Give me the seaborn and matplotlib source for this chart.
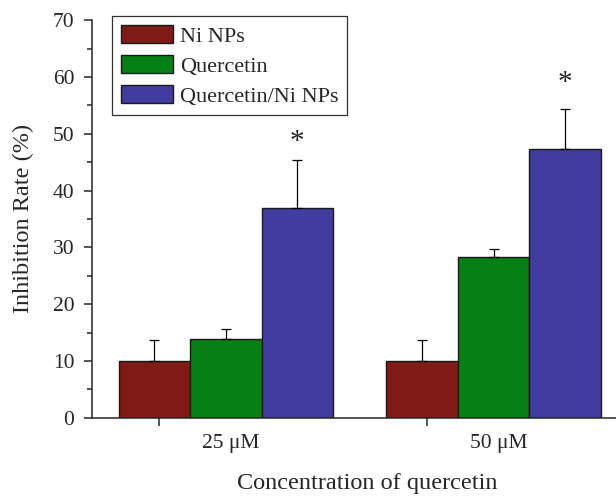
import numpy as np
import pandas as pd
import matplotlib
matplotlib.use("Agg")
import matplotlib.pyplot as plt
import seaborn as sns

# ---- data ----
categories = ["25 \u03bcM", "50 \u03bcM"]
series = ["Ni NPs", "Quercetin", "Quercetin/Ni NPs"]
ni_nps = [10.0, 10.0]
quercetin = [13.8, 28.3]
quercetin_ni = [36.9, 47.3]
ni_nps_err = [3.6, 3.6]
quercetin_err = [1.9, 1.4]
quercetin_ni_err = [8.5, 7.0]
star_y = [48.5, 59.0]          # heights of the significance asterisks
colors = ["#7f1a17", "#067f14", "#403ca0"]

rows = []
for s, vals, errs in zip(series, [ni_nps, quercetin, quercetin_ni],
                         [ni_nps_err, quercetin_err, quercetin_ni_err]):
    for c, v, e in zip(categories, vals, errs):
        rows.append({"conc": c, "series": s, "value": v, "err": e})
df = pd.DataFrame(rows)

sns.set_style("ticks")
plt.rcParams["font.family"] = ["Liberation Serif", "DejaVu Serif"]

fig = plt.figure(figsize=(6.16, 4.96), dpi=100)
ax = fig.add_axes([92.3 / 616, (496 - 417.7) / 496, (616 - 92.3) / 616, (417.7 - 20.1) / 496])

sns.barplot(data=df, x="conc", y="value", hue="series", order=categories,
            hue_order=series, palette=colors, errorbar=None, width=0.8,
            saturation=1, edgecolor="#1a1a1a", linewidth=1.0, ax=ax)

# error bars (upper only) from the drawn bars
for cont, s in zip(ax.containers, series):
    sub = df[df["series"] == s].set_index("conc").loc[categories]
    xs = [p.get_x() + p.get_width() / 2 for p in cont.patches]
    ys = [p.get_height() for p in cont.patches]
    ax.errorbar(xs, ys, yerr=[np.zeros(len(ys)), sub["err"].values], fmt="none",
                ecolor="black", elinewidth=0.9, capsize=3.5, capthick=0.9, zorder=1)

# asterisks over the combined treatment
for p, y in zip(ax.containers[2].patches, star_y):
    ax.text(p.get_x() + p.get_width() / 2, y, "*", ha="center", va="center",
            fontsize=21, color="#222222", fontweight="light")

ax.set_ylim(0, 70)
ax.set_xlim(-0.4985, 1.457)
ax.set_yticks(np.arange(0, 71, 10))
ax.set_yticks(np.arange(5, 70, 10), minor=True)
ax.set_xticks([0.02, 1.02])
ax.set_xticklabels(categories)
ax.set_xticks([-0.25, 0.75], minor=True)
ax.tick_params(axis="x", which="major", length=0, pad=12, labelsize=15.5)
ax.tick_params(axis="x", which="minor", length=6, width=1.1, direction="out")
ax.tick_params(axis="y", which="major", length=6, width=1.1, labelsize=15.5, pad=7)
ax.tick_params(axis="y", which="minor", length=3.5, width=1.1)

ax.set_ylabel("Inhibition Rate (%)", fontsize=17.5)
ax.yaxis.set_label_coords((23 - 92.3) / (616 - 92.3), 0.5)
ax.yaxis.label.set_va("center")
ax.set_xlabel("Concentration of quercetin", fontsize=17.5)
ax.xaxis.set_label_coords((367 - 92.3) / (616 - 92.3), -(484 - 417.7) / 397.6)
ax.xaxis.label.set_va("center")

for side in ["top", "right"]:
    ax.spines[side].set_visible(False)
for side in ["left", "bottom"]:
    ax.spines[side].set_linewidth(1.1)

leg = ax.legend(loc="upper left", bbox_to_anchor=(112.3 / 616, 1 - 16 / 496),
                bbox_transform=fig.transFigure, frameon=True, fancybox=False,
                edgecolor="black", fontsize=16, handlelength=2.35, handleheight=0.9,
                borderpad=0.4, labelspacing=0.36, handletextpad=0.3, borderaxespad=0)
leg.get_frame().set_linewidth(0.9)

fig.savefig("out.png", dpi=100)
